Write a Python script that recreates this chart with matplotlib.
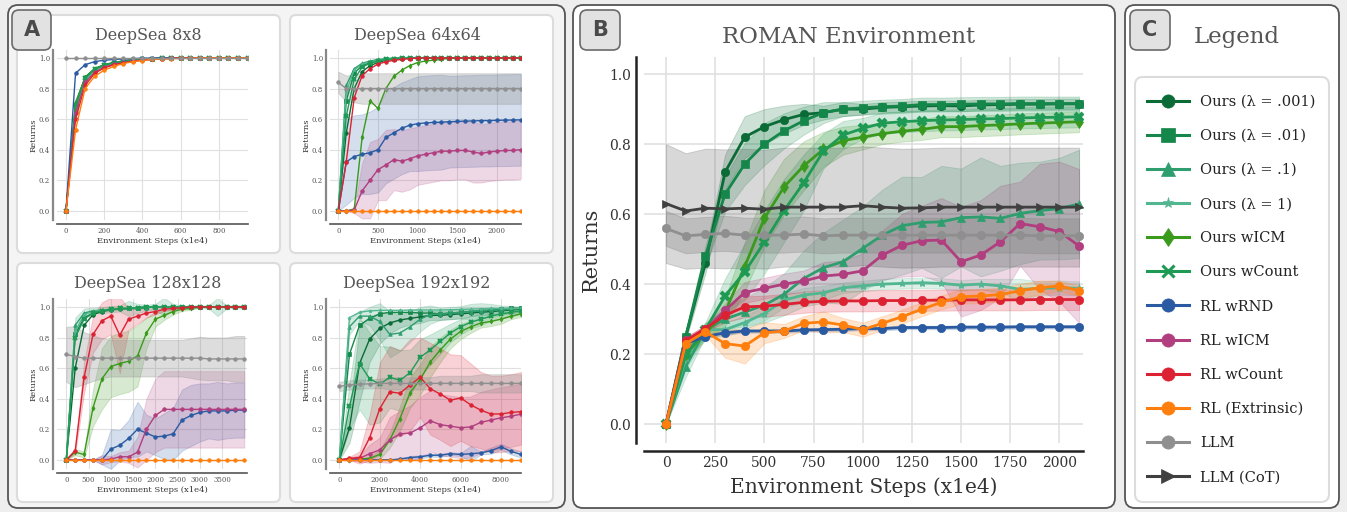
import numpy as np
import matplotlib
matplotlib.use("Agg")
import matplotlib.pyplot as plt
import matplotlib.transforms as mtransforms
from matplotlib.patches import FancyBboxPatch
from matplotlib.lines import Line2D

plt.rcParams['font.family'] = ['DejaVu Serif']

W, H = 1347, 512

# ==============================
# Series styles (legend order)
# ==============================
labels = ["Ours (λ = .001)", "Ours (λ = .01)", "Ours (λ = .1)", "Ours (λ = 1)",
          "Ours wICM", "Ours wCount", "RL wRND", "RL wICM", "RL wCount",
          "RL (Extrinsic)", "LLM", "LLM (CoT)"]
colors = ["#0a6b37", "#15874a", "#2e9e6e", "#52b690", "#3a9a1c", "#1f9a55",
          "#2a5ba2", "#b13e7e", "#dc2232", "#ff7f0e", "#8f8f8f", "#404040"]
markers = ["o", "s", "^", "*", "d", "x", "o", "o", "o", "o", "o", ">"]

# ==============================
# DeepSea 8x8
# ==============================
steps8 = list(range(0, 1000, 50))
ds8_ours_001 = [0.0, 0.70, 0.875, 0.93, 0.956, 0.97, 0.98, 0.988, 0.993, 0.996, 0.998] + [1.0] * 9
ds8_ours_01 = [0.0, 0.68, 0.87, 0.925, 0.952, 0.968, 0.978, 0.987, 0.992, 0.995, 0.998] + [1.0] * 9
ds8_ours_1 = [0.0, 0.66, 0.86, 0.92, 0.95, 0.965, 0.977, 0.985, 0.99, 0.994, 0.997] + [1.0] * 9
ds8_ours_10 = [0.0, 0.64, 0.85, 0.915, 0.945, 0.962, 0.975, 0.984, 0.99, 0.994, 0.997] + [1.0] * 9
ds8_ours_icm = [0.0, 0.71, 0.87, 0.93, 0.955, 0.97, 0.98, 0.988, 0.993, 0.996, 0.998] + [1.0] * 9
ds8_ours_count = [0.0, 0.69, 0.87, 0.928, 0.954, 0.969, 0.979, 0.987, 0.992, 0.996, 0.998] + [1.0] * 9
ds8_rl_rnd = [0.0, 0.90, 0.956, 0.976, 0.985, 0.99, 0.993, 0.996, 0.998, 1.0, 1.0] + [1.0] * 9
ds8_rl_icm = [0.0, 0.64, 0.84, 0.905, 0.94, 0.958, 0.97, 0.98, 0.987, 0.992, 0.995, 0.998, 1.0] + [1.0] * 7
ds8_rl_count = [0.0, 0.60, 0.82, 0.90, 0.935, 0.955, 0.968, 0.978, 0.985, 0.99, 0.994, 0.997, 1.0] + [1.0] * 7
ds8_rl_ext = [0.0, 0.53, 0.80, 0.88, 0.92, 0.945, 0.963, 0.976, 0.983, 0.99, 0.993, 0.995, 0.997, 0.998, 1.0] + [1.0] * 5
ds8_llm = [1.0] * 20

# ==============================
# DeepSea 64x64
# ==============================
steps64 = list(range(0, 2400, 100))
ds64_ours_001 = [0.0, 0.51, 0.80, 0.91, 0.95, 0.97, 0.985, 0.99, 0.995] + [1.0] * 15
ds64_ours_01 = [0.0, 0.72, 0.90, 0.95, 0.97, 0.98, 0.99, 0.995] + [1.0] * 16
ds64_ours_1 = [0.0, 0.82, 0.93, 0.965, 0.98, 0.99, 0.995] + [1.0] * 17
ds64_ours_10 = [0.0, 0.78, 0.92, 0.96, 0.975, 0.985, 0.99, 0.995] + [1.0] * 16
ds64_ours_icm = [0.0, 0.0, 0.01, 0.48, 0.72, 0.67, 0.80, 0.88, 0.92, 0.95, 0.97, 0.98, 0.985, 0.99] + [1.0] * 10
ds64_ours_count = [0.0, 0.62, 0.86, 0.94, 0.965, 0.98, 0.99, 0.995] + [1.0] * 16
ds64_rl_rnd = [0.0, 0.32, 0.355, 0.37, 0.38, 0.40, 0.48, 0.51, 0.54, 0.56, 0.57, 0.575,
               0.578, 0.58, 0.583, 0.585, 0.587, 0.588, 0.59, 0.59, 0.592, 0.593, 0.594, 0.595]
ds64_rl_rnd_sd = [0.0, 0.28, 0.27, 0.26, 0.27, 0.28, 0.30, 0.30, 0.30, 0.30, 0.31, 0.31,
                  0.31, 0.31, 0.30, 0.30, 0.30, 0.30, 0.30, 0.30, 0.30, 0.30, 0.30, 0.30]
ds64_rl_icm = [0.0, 0.0, 0.005, 0.13, 0.20, 0.27, 0.30, 0.335, 0.325, 0.34, 0.36, 0.37,
               0.38, 0.39, 0.39, 0.395, 0.395, 0.385, 0.375, 0.385, 0.39, 0.395, 0.395, 0.40]
ds64_rl_icm_sd = [0.0, 0.0, 0.02, 0.18, 0.25, 0.20, 0.23, 0.20, 0.20, 0.20, 0.19, 0.19,
                  0.19, 0.19, 0.19, 0.19, 0.19, 0.20, 0.19, 0.19, 0.19, 0.19, 0.19, 0.19]
ds64_rl_count = [0.0, 0.32, 0.74, 0.885, 0.93, 0.96, 0.975, 0.985, 0.99, 0.995] + [1.0] * 14
ds64_rl_ext = [0.0] * 24
ds64_llm = [0.84] + [0.80] * 23
ds64_llm_sd = [0.07, 0.085, 0.09] + [0.10] * 21

# ==============================
# DeepSea 128x128
# ==============================
steps128 = list(range(0, 4200, 200))
ds128_ours_001 = [0.0, 0.60, 0.88, 0.95, 0.97, 0.98, 0.985, 0.99, 0.99, 0.995] + [1.0] * 11
ds128_ours_01 = [0.0, 0.82, 0.93, 0.96, 0.975, 0.985, 0.99, 0.99, 0.995] + [1.0] * 12
ds128_ours_1 = [0.0, 0.88, 0.96, 0.975, 0.98, 0.985, 0.99, 0.99, 0.99, 0.995] + [1.0] * 11
ds128_ours_1_sd = [0.0, 0.05, 0.03, 0.02, 0.02, 0.02, 0.02, 0.05, 0.03, 0.02, 0.02,
                   0.06, 0.02, 0.01, 0.01, 0.01, 0.01, 0.06, 0.01, 0.01, 0.01]
ds128_ours_10 = [0.0, 0.84, 0.95, 0.97, 0.98, 0.985, 0.99, 0.99, 0.995] + [1.0] * 12
ds128_ours_icm = [0.0, 0.05, 0.035, 0.34, 0.53, 0.61, 0.63, 0.645, 0.68, 0.83, 0.92,
                  0.945, 0.97, 0.985, 0.99] + [1.0] * 6
ds128_ours_icm_sd = [0.0, 0.02, 0.02, 0.12, 0.20, 0.20, 0.20, 0.20, 0.20, 0.10, 0.05,
                     0.03, 0.02, 0.01, 0.01] + [0.0] * 6
ds128_ours_count = [0.0, 0.80, 0.92, 0.96, 0.975, 0.985, 0.99, 0.99, 0.995] + [1.0] * 12
ds128_rl_rnd = [0.0, 0.0, 0.0, 0.0, 0.0, 0.07, 0.095, 0.14, 0.20, 0.175, 0.15, 0.155,
                0.17, 0.26, 0.29, 0.31, 0.32, 0.32, 0.32, 0.325, 0.325]
ds128_rl_rnd_sd = [0.0, 0.0, 0.0, 0.0, 0.03, 0.13, 0.10, 0.12, 0.18, 0.12, 0.12, 0.15,
                   0.17, 0.20, 0.20, 0.19, 0.18, 0.19, 0.18, 0.18, 0.18]
ds128_rl_icm = [0.0, 0.0, 0.0, 0.0, 0.0, 0.005, 0.02, 0.02, 0.05, 0.20, 0.29, 0.33] + [0.33] * 9
ds128_rl_icm_sd = [0.0, 0.0, 0.0, 0.0, 0.03, 0.02, 0.03, 0.04, 0.10, 0.20, 0.24] + [0.25] * 10
ds128_rl_count = [0.0, 0.06, 0.54, 0.82, 0.91, 0.94, 0.815, 0.92, 0.94, 0.96, 0.97, 0.985,
                  0.99, 0.995] + [1.0] * 7
ds128_rl_count_sd = [0.0, 0.02, 0.10, 0.12, 0.12, 0.12, 0.25, 0.07, 0.05, 0.03, 0.02, 0.01,
                     0.01] + [0.0] * 8
ds128_rl_ext = [0.0] * 21
ds128_llm = [0.69, 0.675] + [0.665] * 14 + [0.66] * 5
ds128_llm_sd = [0.18, 0.20, 0.17, 0.15, 0.13, 0.12, 0.12, 0.12, 0.12, 0.12, 0.12, 0.12,
                0.12, 0.12, 0.13, 0.14, 0.14, 0.14, 0.14, 0.15, 0.15]

# ==============================
# DeepSea 192x192
# ==============================
steps192 = list(range(0, 9500, 500))
ds192_ours_001 = [0.0, 0.21, 0.63, 0.79, 0.86, 0.895, 0.915, 0.925, 0.935, 0.945, 0.945,
                  0.95, 0.955, 0.96, 0.965, 0.97, 0.975, 0.98, 0.985]
ds192_ours_001_sd = [0.0, 0.10, 0.25, 0.15, 0.10, 0.07, 0.05, 0.04, 0.04, 0.03, 0.03,
                     0.03, 0.03, 0.02, 0.02, 0.02, 0.02, 0.02, 0.02]
ds192_ours_01 = [0.0, 0.69, 0.88, 0.925, 0.955, 0.965, 0.965, 0.965, 0.96, 0.96, 0.955,
                 0.96, 0.965, 0.97, 0.975, 0.98, 0.985, 0.99, 0.99]
ds192_ours_1 = [0.0, 0.87, 0.94, 0.94, 0.905, 0.82, 0.83, 0.87, 0.92, 0.95, 0.955,
                0.96, 0.965, 0.97, 0.975, 0.98, 0.98, 0.985, 0.99]
ds192_ours_1_sd = [0.0, 0.05, 0.03, 0.06, 0.12, 0.15, 0.12, 0.10, 0.08, 0.06, 0.04,
                   0.04, 0.04, 0.05, 0.05, 0.04, 0.03, 0.02, 0.01]
ds192_ours_10 = [0.0, 0.93, 0.965, 0.975, 0.977, 0.978, 0.978, 0.98, 0.98, 0.98, 0.98,
                 0.982, 0.984, 0.986, 0.988, 0.99, 0.99, 0.99, 0.99]
ds192_ours_icm = [0.0, 0.0, 0.005, 0.01, 0.035, 0.13, 0.27, 0.44, 0.525, 0.64, 0.72,
                  0.79, 0.84, 0.87, 0.895, 0.905, 0.92, 0.94, 0.955]
ds192_ours_icm_sd = [0.0, 0.0, 0.005, 0.01, 0.03, 0.05, 0.08, 0.10, 0.10, 0.10, 0.08,
                     0.06, 0.05, 0.04, 0.03, 0.03, 0.03, 0.02, 0.02]
ds192_ours_count = [0.0, 0.35, 0.63, 0.53, 0.495, 0.54, 0.52, 0.57, 0.67, 0.72, 0.775,
                    0.83, 0.87, 0.90, 0.92, 0.94, 0.955, 0.965, 0.975]
ds192_ours_count_sd = [0.0, 0.15, 0.30, 0.30, 0.25, 0.20, 0.20, 0.15, 0.12, 0.10, 0.08,
                       0.06, 0.05, 0.04, 0.04, 0.03, 0.03, 0.03, 0.02]
ds192_rl_rnd = [0.0, 0.0, 0.0, 0.0, 0.0, 0.0, 0.005, 0.015, 0.02, 0.03, 0.03, 0.04,
                0.035, 0.04, 0.045, 0.06, 0.085, 0.055, 0.035]
ds192_rl_rnd_sd = [0.0, 0.0, 0.0, 0.0, 0.0, 0.0, 0.005, 0.01, 0.01, 0.01, 0.01, 0.01,
                   0.01, 0.05, 0.01, 0.02, 0.02, 0.02, 0.02]
ds192_rl_icm = [0.0, 0.005, 0.01, 0.04, 0.065, 0.13, 0.17, 0.175, 0.21, 0.255, 0.23,
                0.22, 0.21, 0.215, 0.245, 0.26, 0.275, 0.285, 0.30]
ds192_rl_icm_sd = [0.0, 0.01, 0.02, 0.06, 0.08, 0.15, 0.15, 0.18, 0.20, 0.20, 0.20,
                   0.20, 0.20, 0.20, 0.20, 0.20, 0.20, 0.20, 0.20]
ds192_rl_count = [0.0, 0.01, 0.015, 0.145, 0.335, 0.445, 0.435, 0.49, 0.54, 0.465, 0.43,
                  0.39, 0.405, 0.36, 0.325, 0.30, 0.30, 0.31, 0.315]
ds192_rl_count_sd = [0.0, 0.01, 0.04, 0.15, 0.30, 0.30, 0.28, 0.30, 0.26, 0.30, 0.30,
                     0.30, 0.28, 0.27, 0.25, 0.25, 0.25, 0.25, 0.26]
ds192_rl_ext = [0.0] * 19
ds192_llm = [0.48, 0.49, 0.495, 0.497] + [0.50] * 15
ds192_llm_sd = [0.03] * 5 + [0.04] * 5 + [0.05] * 4 + [0.06] * 5

# ==============================
# ROMAN environment
# ==============================
roman_steps = list(range(0, 2200, 100))
roman_ours_001 = [0.0, 0.25, 0.46, 0.72, 0.82, 0.85, 0.87, 0.885, 0.89, 0.90, 0.90,
                  0.905, 0.907, 0.909, 0.91, 0.909, 0.912, 0.913, 0.914, 0.914, 0.915, 0.915]
roman_ours_001_sd = [0.0, 0.01, 0.03, 0.05, 0.06, 0.05, 0.04, 0.03, 0.02, 0.02, 0.015,
                     0.015, 0.015, 0.015, 0.015, 0.015, 0.015, 0.015, 0.015, 0.015, 0.015, 0.015]
roman_ours_01 = [0.0, 0.25, 0.48, 0.657, 0.743, 0.80, 0.838, 0.867, 0.89, 0.90, 0.904,
                 0.907, 0.909, 0.913, 0.913, 0.914, 0.915, 0.915, 0.916, 0.916, 0.916, 0.916]
roman_ours_01_sd = [0.0, 0.01, 0.03, 0.05, 0.06, 0.06, 0.05, 0.04, 0.03, 0.02, 0.02,
                    0.02, 0.02, 0.02, 0.02, 0.02, 0.02, 0.02, 0.02, 0.02, 0.02, 0.02]
roman_ours_1 = [0.0, 0.164, 0.27, 0.30, 0.32, 0.34, 0.371, 0.416, 0.447, 0.464, 0.502,
                0.54, 0.567, 0.576, 0.578, 0.59, 0.592, 0.588, 0.602, 0.61, 0.616, 0.629]
roman_ours_1_sd = [0.0, 0.03, 0.02, 0.03, 0.04, 0.05, 0.06, 0.08, 0.10, 0.12, 0.12,
                   0.13, 0.14, 0.13, 0.16, 0.14, 0.17, 0.15, 0.145, 0.14, 0.145, 0.155]
roman_ours_10 = [0.0, 0.188, 0.27, 0.27, 0.29, 0.316, 0.354, 0.369, 0.375, 0.39, 0.395,
                 0.40, 0.402, 0.404, 0.402, 0.397, 0.40, 0.395, 0.385, 0.388, 0.39, 0.388]
roman_ours_10_sd = [0.0, 0.03, 0.02, 0.02, 0.02, 0.02, 0.02, 0.02, 0.02, 0.015, 0.015,
                    0.015, 0.015, 0.015, 0.015, 0.015, 0.015, 0.02, 0.03, 0.02, 0.02, 0.02]
roman_ours_icm = [0.0, 0.20, 0.26, 0.32, 0.45, 0.588, 0.678, 0.738, 0.785, 0.81, 0.82,
                  0.83, 0.837, 0.842, 0.85, 0.85, 0.853, 0.855, 0.858, 0.86, 0.862, 0.864]
roman_ours_icm_sd = [0.0, 0.02, 0.02, 0.04, 0.07, 0.08, 0.08, 0.07, 0.05, 0.04, 0.035,
                     0.03, 0.03, 0.03, 0.03, 0.03, 0.03, 0.03, 0.03, 0.03, 0.03, 0.03]
roman_ours_count = [0.0, 0.20, 0.27, 0.366, 0.435, 0.52, 0.61, 0.69, 0.78, 0.826, 0.845,
                    0.86, 0.864, 0.867, 0.869, 0.87, 0.872, 0.873, 0.875, 0.876, 0.877, 0.878]
roman_ours_count_sd = [0.0, 0.02, 0.02, 0.05, 0.08, 0.09, 0.09, 0.08, 0.05, 0.04, 0.03,
                       0.03, 0.03, 0.03, 0.03, 0.03, 0.03, 0.03, 0.03, 0.03, 0.03, 0.03]
roman_rl_rnd = [0.0, 0.23, 0.25, 0.261, 0.266, 0.266, 0.266, 0.269, 0.27, 0.271, 0.273,
                0.273, 0.276, 0.276, 0.276, 0.277, 0.277, 0.277, 0.278, 0.278, 0.278, 0.278]
roman_rl_rnd_sd = [0.0, 0.01] + [0.005] * 20
roman_rl_icm = [0.0, 0.24, 0.27, 0.325, 0.376, 0.388, 0.40, 0.409, 0.423, 0.428, 0.438,
                0.483, 0.511, 0.524, 0.526, 0.464, 0.483, 0.521, 0.573, 0.564, 0.55, 0.509]
roman_rl_icm_sd = [0.0, 0.01, 0.01, 0.02, 0.03, 0.03, 0.03, 0.03, 0.04, 0.04, 0.05,
                   0.07, 0.09, 0.10, 0.12, 0.157, 0.157, 0.16, 0.12, 0.18, 0.20, 0.22]
roman_rl_count = [0.0, 0.238, 0.273, 0.311, 0.335, 0.337, 0.342, 0.348, 0.351, 0.352, 0.352,
                  0.353, 0.353, 0.354, 0.354, 0.355, 0.355, 0.355, 0.355, 0.356, 0.356, 0.356]
roman_rl_count_sd = [0.0, 0.01, 0.01, 0.02] + [0.03] * 18
roman_rl_ext = [0.0, 0.23, 0.264, 0.23, 0.223, 0.261, 0.266, 0.288, 0.292, 0.283, 0.27,
                0.288, 0.307, 0.328, 0.348, 0.364, 0.366, 0.37, 0.381, 0.39, 0.395, 0.381]
roman_rl_ext_sd = [0.0, 0.01, 0.01, 0.04, 0.05, 0.03, 0.02, 0.02, 0.03, 0.02, 0.02,
                   0.02, 0.02, 0.02, 0.02, 0.02, 0.02, 0.02, 0.02, 0.02, 0.015, 0.015]
roman_llm = [0.559, 0.538, 0.542, 0.545, 0.54, 0.54, 0.54, 0.543, 0.538, 0.54, 0.54,
             0.54, 0.54, 0.54, 0.54, 0.54, 0.54, 0.54, 0.54, 0.538, 0.538, 0.538]
roman_llm_sd = [0.05] * 22
roman_llm_cot = [0.63, 0.609, 0.617, 0.615, 0.617, 0.614, 0.62, 0.62, 0.62, 0.62, 0.624,
                 0.62, 0.617, 0.618, 0.62, 0.62, 0.62, 0.62, 0.62, 0.62, 0.62, 0.62]
roman_llm_cot_sd = [0.17, 0.165] + [0.17] * 20

# (mean, sd) per series, in legend order; None = not shown
env8 = [(ds8_ours_001, None), (ds8_ours_01, None), (ds8_ours_1, None), (ds8_ours_10, None),
        (ds8_ours_icm, None), (ds8_ours_count, None), (ds8_rl_rnd, None), (ds8_rl_icm, None),
        (ds8_rl_count, None), (ds8_rl_ext, None), (ds8_llm, None), None]
env64 = [(ds64_ours_001, None), (ds64_ours_01, None), (ds64_ours_1, None), (ds64_ours_10, None),
         (ds64_ours_icm, None), (ds64_ours_count, None), (ds64_rl_rnd, ds64_rl_rnd_sd),
         (ds64_rl_icm, ds64_rl_icm_sd), (ds64_rl_count, None), (ds64_rl_ext, None),
         (ds64_llm, ds64_llm_sd), None]
env128 = [(ds128_ours_001, None), (ds128_ours_01, None), (ds128_ours_1, ds128_ours_1_sd),
          (ds128_ours_10, None), (ds128_ours_icm, ds128_ours_icm_sd), (ds128_ours_count, None),
          (ds128_rl_rnd, ds128_rl_rnd_sd), (ds128_rl_icm, ds128_rl_icm_sd),
          (ds128_rl_count, ds128_rl_count_sd), (ds128_rl_ext, None), (ds128_llm, ds128_llm_sd), None]
env192 = [(ds192_ours_001, ds192_ours_001_sd), (ds192_ours_01, None), (ds192_ours_1, ds192_ours_1_sd),
          (ds192_ours_10, None), (ds192_ours_icm, ds192_ours_icm_sd),
          (ds192_ours_count, ds192_ours_count_sd), (ds192_rl_rnd, ds192_rl_rnd_sd),
          (ds192_rl_icm, ds192_rl_icm_sd), (ds192_rl_count, ds192_rl_count_sd),
          (ds192_rl_ext, None), (ds192_llm, ds192_llm_sd), None]
roman = [(roman_ours_001, roman_ours_001_sd), (roman_ours_01, roman_ours_01_sd),
         (roman_ours_1, roman_ours_1_sd), (roman_ours_10, roman_ours_10_sd),
         (roman_ours_icm, roman_ours_icm_sd), (roman_ours_count, roman_ours_count_sd),
         (roman_rl_rnd, roman_rl_rnd_sd), (roman_rl_icm, roman_rl_icm_sd),
         (roman_rl_count, roman_rl_count_sd), (roman_rl_ext, roman_rl_ext_sd),
         (roman_llm, roman_llm_sd), (roman_llm_cot, roman_llm_cot_sd)]

# ==============================
# Figure + helpers (pixel coords, top-left origin)
# ==============================
fig = plt.figure(figsize=(W / 100, H / 100), dpi=100, facecolor="#eeeeee")
pix = mtransforms.Affine2D().scale(1 / W, -1 / H).translate(0, 1) + fig.transFigure


def rbox(l, t, r, b, face, edge, lw, rad, z=-5):
    p = FancyBboxPatch((l, t), r - l, b - t, boxstyle=f"round,pad=0,rounding_size={rad}",
                       transform=pix, facecolor=face, edgecolor=edge, lw=lw, zorder=z)
    fig.add_artist(p)


def badge(l, t, r, b, letter):
    rbox(l, t, r, b, "#e2e2e2", "#6a6a6a", 1.2, 7, z=2)
    fig.text((l + r) / 2 / W, 1 - (t + b) / 2 / H, letter, ha="center", va="center",
             fontsize=15, fontweight="bold", family="DejaVu Sans", color="#4a4a4a", zorder=3)


def ftext(x, y, s, **kw):
    fig.text(x / W, 1 - y / H, s, **kw)


def px_axes(l, t, r, b):
    return fig.add_axes([l / W, 1 - b / H, (r - l) / W, (b - t) / H])


def style_axes(ax, fs, off, spine_lw, spine_c, pad, grid_lw, tick_c):
    ax.set_facecolor("white")
    for s in ["top", "right"]:
        ax.spines[s].set_visible(False)
    for s in ["left", "bottom"]:
        ax.spines[s].set_position(("outward", off))
        ax.spines[s].set_linewidth(spine_lw)
        ax.spines[s].set_color(spine_c)
    ax.grid(True, color="#e0e0e0", lw=grid_lw)
    ax.set_axisbelow(True)
    ax.tick_params(length=0, labelsize=fs, pad=pad, colors=tick_c)
    ax.set_yticks(np.arange(0, 1.01, 0.2))
    ax.yaxis.set_major_formatter(matplotlib.ticker.FormatStrFormatter("%.1f"))


def draw_env(ax, steps, env, lw, ms, band_alpha=0.2):
    x = np.array(steps)
    for item, c, m in zip(env, colors, markers):
        if item is None:
            continue
        mean, sd = item
        y = np.array(mean)
        if sd is not None:
            s = np.array(sd)
            a = 0.3 if c == "#8f8f8f" else (0.2 if c == "#404040" else band_alpha)
            ax.fill_between(x, y - s, y + s, color=c, alpha=a, lw=0.7)
        mew = 1.5 * lw if m == "x" else 0.5
        ax.plot(x, y, color=c, marker=m, lw=lw, ms=ms, mec=c, mew=mew)


# ==============================
# Panel frames
# ==============================
rbox(8, 5, 565, 508, "#f4f4f4", "#555555", 1.3, 10)
for (l, t, r, b) in [(17, 15, 280, 253), (290, 15, 553, 253),
                     (17, 263, 280, 502), (290, 263, 553, 502)]:
    rbox(l, t, r, b, "white", "#dcdcdc", 1.5, 6, z=-4)
rbox(573, 5, 1115, 508, "white", "#555555", 1.3, 10)
rbox(1125, 5, 1339, 508, "white", "#555555", 1.3, 10)
rbox(1135, 77, 1329, 502, "white", "#dcdcdc", 1.5, 8, z=-4)
badge(12, 10, 51, 50, "A")
badge(580, 10, 620, 50, "B")
badge(1130, 10, 1170, 50, "C")

# ==============================
# Panel A: DeepSea grid
# ==============================
sub_specs = [
    ("DeepSea 8x8", steps8, env8, (57, 50, 248, 220), (-47, 952), [0, 200, 400, 600, 800], (148, 40)),
    ("DeepSea 64x64", steps64, env64, (330, 50, 521, 220), (-105, 2303), [0, 500, 1000, 1500, 2000], (417, 40)),
    ("DeepSea 128x128", steps128, env128, (57, 299, 247, 469), (-209, 4060),
     [0, 500, 1000, 1500, 2000, 2500, 3000, 3500], (148, 288)),
    ("DeepSea 192x192", steps192, env192, (330, 299, 521, 469), (-463, 8990),
     [0, 2000, 4000, 6000, 8000], (417, 288)),
]
for title, steps, env, box, xlim, xt, tpos in sub_specs:
    ax = px_axes(*box)
    style_axes(ax, 5, 3, 1.2, "#555555", 2, 0.8, "#555555")
    ax.spines["left"].set_color("#888888")
    ax.spines["left"].set_linewidth(1.6)
    draw_env(ax, steps, env, 1.0, 2.6)
    ax.set_xlim(*xlim)
    ax.set_ylim(-0.06, 1.052)
    ax.set_xticks(xt)
    ax.set_xlabel("Environment Steps (x1e4)", fontsize=6, color="#333333", labelpad=1.5)
    ax.set_ylabel("Returns", fontsize=6, color="#333333", labelpad=1)
    ftext(tpos[0], tpos[1], title, ha="center", va="baseline", fontsize=11.5, color="#555555")

# ==============================
# Panel B: ROMAN
# ==============================
axb = px_axes(644, 57, 1083, 443)
style_axes(axb, 10, 5.5, 1.8, "#222222", 4, 1.2, "#333333")
draw_env(axb, roman_steps, roman, 2.0, 6.0)
axb.set_xlim(-112, 2120)
axb.set_ylim(-0.054, 1.049)
axb.set_xticks(range(0, 2001, 250))
axb.set_xlabel("Environment Steps (x1e4)", fontsize=14.5, color="#333333", labelpad=5)
axb.set_ylabel("Returns", fontsize=15, color="#333333", labelpad=6)
ftext(849, 42.7, "ROMAN Environment", ha="center", va="baseline", fontsize=16.5, color="#555555")

# ==============================
# Panel C: Legend
# ==============================
ftext(1237, 42.7, "Legend", ha="center", va="baseline", fontsize=16.5, color="#555555")
axc = px_axes(1135, 77, 1329, 502)
axc.axis("off")
handles = [Line2D([], [], color=c, marker=m, lw=2.2, ms=(8 if m in ("*", "x") else 9.5),
                  mec=c, mew=(2.2 if m == "x" else 0.5))
           for c, m in zip(colors, markers)]
axc.legend(handles, labels, loc="upper left", bbox_to_anchor=(0.062, 0.958), frameon=False,
           fontsize=10.5, handlelength=2.9, handletextpad=0.75, labelspacing=1.38,
           borderaxespad=0, borderpad=0, labelcolor="#222222")

fig.savefig("out.png", dpi=100, facecolor=fig.get_facecolor())
